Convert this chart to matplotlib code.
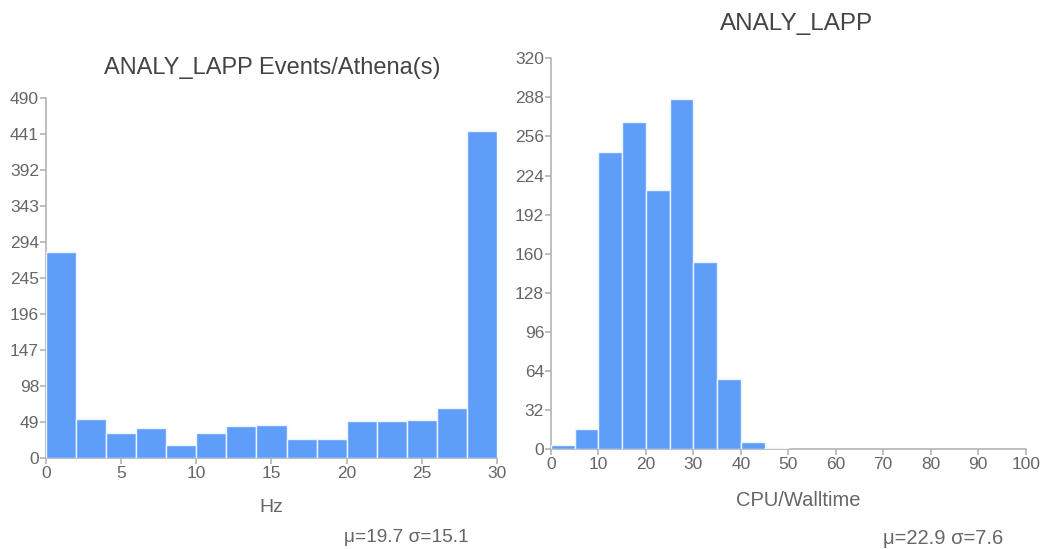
import matplotlib
matplotlib.use("Agg")
import matplotlib.pyplot as plt
import numpy as np

plt.rcParams['font.family'] = ['Liberation Sans', 'DejaVu Sans']

BAR_COLOR = '#5f9ef8'
TEXT_COLOR = '#666666'
AXIS_COLOR = '#b4b4b4'

# Events/Athena(s) histogram, 2 Hz bins from 0 to 30
hz_edges = np.arange(0, 30, 2)
hz_counts = [280, 53, 33, 40, 17, 33, 43, 45, 26, 25, 50, 50, 52, 68, 446]
hz_yticks = [0, 49, 98, 147, 196, 245, 294, 343, 392, 441, 490]
hz_xticks = [0, 5, 10, 15, 20, 25, 30]

# CPU/Walltime histogram, 5 unit bins
cpu_edges = np.arange(0, 50, 5)
cpu_counts = [3, 16, 243, 268, 212, 287, 153, 57, 6, 1]
cpu_yticks = [0, 32, 64, 96, 128, 160, 192, 224, 256, 288, 320]
cpu_xticks = [0, 10, 20, 30, 40, 50, 60, 70, 80, 90, 100]


def style_axes(ax, xticks, yticks):
    for side in ('top', 'right'):
        ax.spines[side].set_visible(False)
    for side in ('left', 'bottom'):
        ax.spines[side].set_color(AXIS_COLOR)
        ax.spines[side].set_linewidth(1.2)
    ax.set_xticks(xticks)
    ax.set_yticks(yticks)
    ax.set_xlim(xticks[0], xticks[-1])
    ax.set_ylim(yticks[0], yticks[-1])
    ax.tick_params(colors=AXIS_COLOR, labelcolor=TEXT_COLOR, labelsize=12.5,
                   length=4, width=1.2, pad=1)
    ax.tick_params(axis='x', pad=2)


def label(x, y, s, size, color=TEXT_COLOR):
    fig.text(x / 1059, 1 - y / 549, s, ha='center', va='center',
             fontsize=size, color=color)


fig = plt.figure(figsize=(10.59, 5.49), dpi=100)

ax1 = fig.add_axes([0.0434, 0.1663, 0.4259, 0.6546])
ax1.bar(hz_edges, hz_counts, width=2, align='edge', color=BAR_COLOR,
        edgecolor='#eef4ff', linewidth=1.0, zorder=3)
style_axes(ax1, hz_xticks, hz_yticks)
label(272, 68, 'ANALY_LAPP Events/Athena(s)', 17, '#444444')
label(271, 507, 'Hz', 14)
label(406, 538, 'μ=19.7 σ=15.1', 13.8)

ax2 = fig.add_axes([0.5203, 0.1821, 0.4482, 0.7117])
ax2.bar(cpu_edges, cpu_counts, width=5, align='edge', color=BAR_COLOR,
        edgecolor='#eef4ff', linewidth=1.0, zorder=3)
style_axes(ax2, cpu_xticks, cpu_yticks)
label(797, 24, 'ANALY_LAPP', 17.5, '#444444')
label(798, 500, 'CPU/Walltime', 14.5)
label(943, 538, 'μ=22.9 σ=7.6', 14.5)

fig.savefig('out.png', dpi=100)
